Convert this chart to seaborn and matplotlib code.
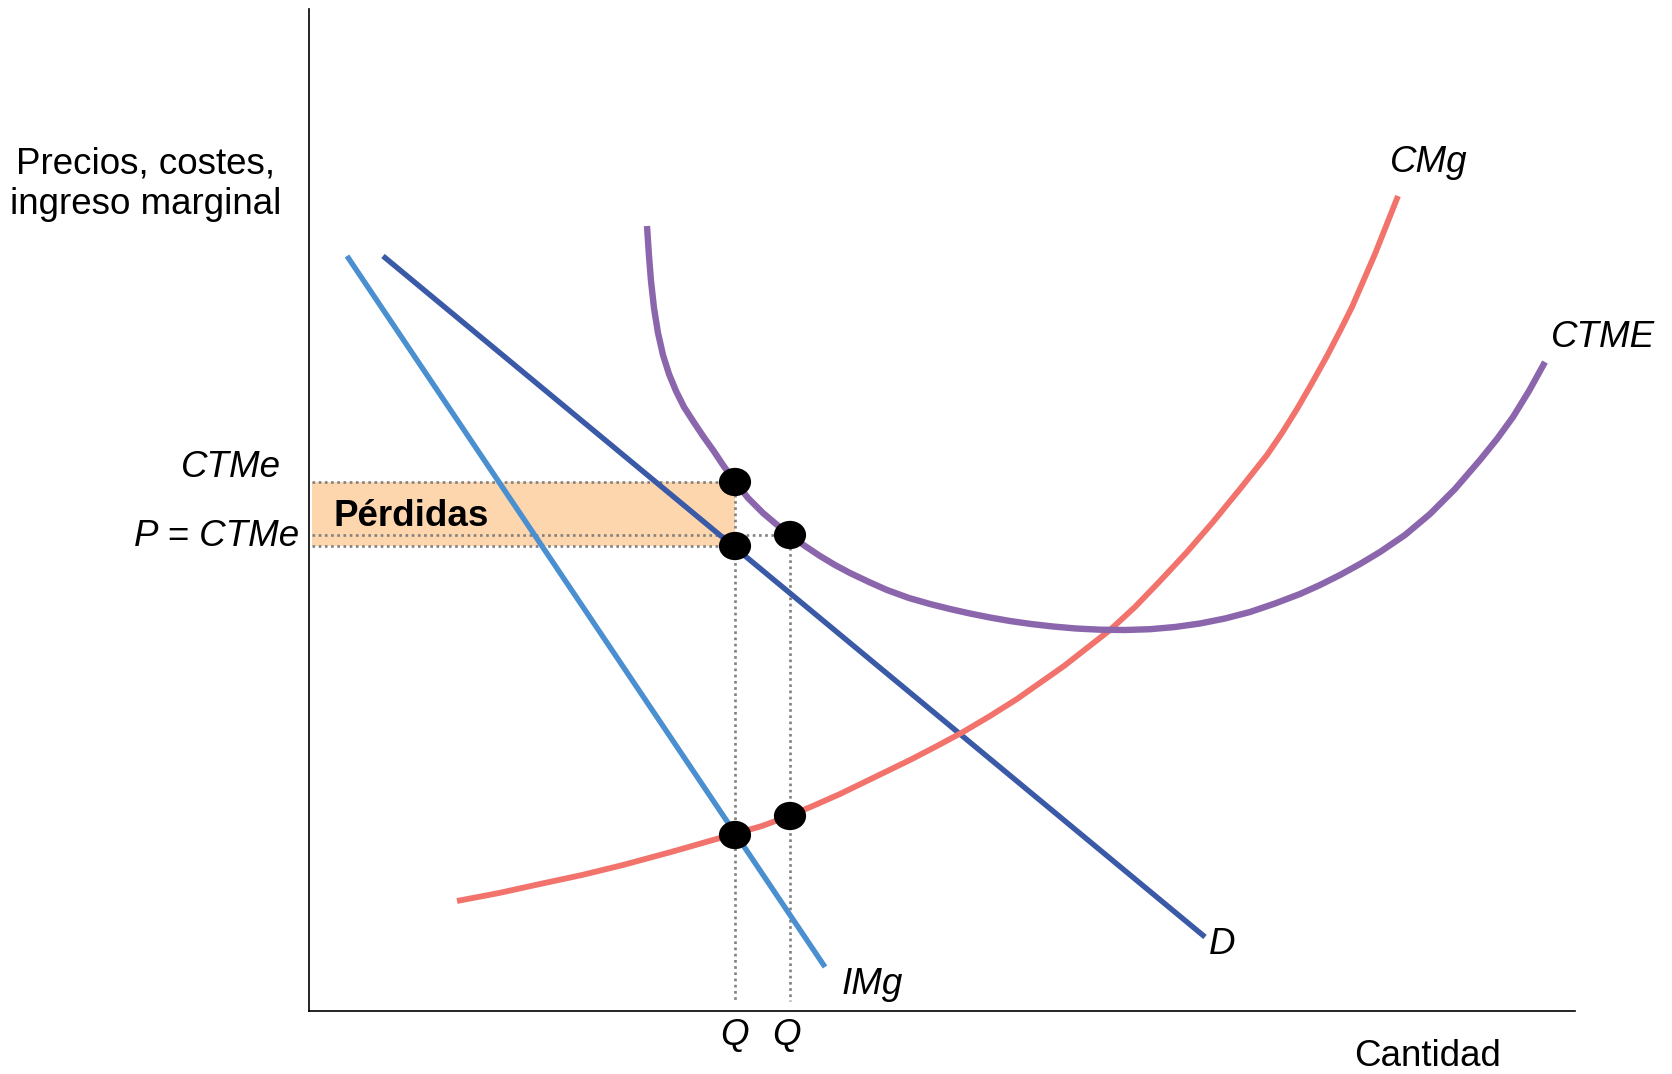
import matplotlib
matplotlib.use("Agg")
import matplotlib.pyplot as plt
from matplotlib.markers import MarkerStyle
from matplotlib.transforms import Affine2D
import seaborn as sns

# ---------------- data (arbitrary units) ----------------
img_x = [38, 516]
img_y = [755, 44]

d_x = [74, 896]
d_y = [755, 74]

cmg_x = [148, 190, 231, 273, 314, 362, 411, 453, 480, 505, 531, 566, 601, 628, 654, 681,
         708, 755, 801, 826, 851, 878, 904, 931, 958, 973, 988, 1003, 1018, 1031, 1043,
         1066, 1089]
cmg_y = [110, 118, 127, 136, 146, 159, 173, 185, 195, 205.5, 217, 234, 251, 265, 279, 295,
         312, 345, 381, 404, 430, 459, 489, 522, 556, 578, 602, 628, 655, 680, 704,
         757, 815]

ctme_x = [338, 340, 342, 345, 349, 354, 360, 367, 375, 384, 394, 404, 414, 424, 439, 454,
          467, 481, 496, 511, 526, 541, 560, 578, 600, 621, 641, 661, 681, 701, 722, 744,
          767, 791, 816, 841, 866, 891, 916, 941, 966, 991, 1011, 1031, 1051, 1071, 1096,
          1121, 1146, 1171, 1188, 1204, 1220, 1236]
ctme_y = [785, 755, 730, 703, 678, 656, 637, 620, 604, 590, 575, 561, 546, 532, 513, 498,
          487, 476, 465, 455, 446, 438, 429, 421, 413, 407, 402, 397.5, 393.5, 390, 387, 384.5,
          382.5, 381.3, 381, 381.8, 384, 387.5, 392.5, 399, 407.5, 417, 426, 436, 447, 459, 476,
          497, 522, 551, 572, 594, 620, 649]

q_levels = [426, 481]          # the two quantities marked Q
ctme_level = 529               # CTMe at the first Q
price_level = 465              # P at the first Q
ctme_q2_level = 476            # CTME at the second Q

dots_x = [426, 426, 481, 426, 481]
dots_y = [529, 465, 476, 176, 195]

q_labels = ["Q", "Q"]

# ---------------- style ----------------
sns.set_theme(style="white")
plt.rcParams["font.family"] = ["Liberation Sans", "DejaVu Sans"]

FS = 26.5
C_IMG = "#4A8FCF"
C_D = "#3A59A6"
C_CMG = "#F2726C"
C_CTME = "#8B66AD"
C_RECT = "#FDD6AE"
C_DOT = "#808080"

fig = plt.figure(figsize=(16.72, 10.74), dpi=100)
ax = fig.add_axes([309 / 1672, 1 - 1011 / 1074, (1575 - 309) / 1672, (1011 - 9) / 1074])
ax.set_xlim(0, 1266)
ax.set_ylim(0, 1002)

# losses rectangle
ax.fill_between([3, q_levels[0]], price_level, ctme_level, color=C_RECT, lw=0, zorder=1)

# dotted guide lines
dot_kw = dict(color=C_DOT, lw=1.9, ls=(0, (1, 1.35)), zorder=2)
ax.plot([3, q_levels[0]], [ctme_level, ctme_level], **dot_kw)
ax.plot([3, q_levels[0]], [price_level, price_level], **dot_kw)
ax.plot([3, q_levels[1]], [ctme_q2_level, ctme_q2_level], **dot_kw)
ax.plot([q_levels[0], q_levels[0]], [ctme_level, 10], **dot_kw)
ax.plot([q_levels[1], q_levels[1]], [ctme_q2_level, 10], **dot_kw)

# curves
n0 = len(ax.get_lines())
sns.lineplot(x=img_x, y=img_y, ax=ax, color=C_IMG, lw=3.9, estimator=None, zorder=3)
sns.lineplot(x=d_x, y=d_y, ax=ax, color=C_D, lw=3.9, estimator=None, zorder=3)
sns.lineplot(x=cmg_x, y=cmg_y, ax=ax, color=C_CMG, lw=4.2, estimator=None, zorder=3)
sns.lineplot(x=ctme_x, y=ctme_y, ax=ax, color=C_CTME, lw=4.6, estimator=None, zorder=3)
for l in ax.get_lines()[n0:]:
    l.set_solid_joinstyle("round")
    l.set_solid_capstyle("butt")

# points (slightly wide ellipses)
ell = MarkerStyle("o", transform=Affine2D().scale(1.08, 0.95))
sns.scatterplot(x=dots_x, y=dots_y, ax=ax, color="black", s=460, edgecolor="none",
                marker=ell, zorder=5)

# axes
ax.set_xticks([])
ax.set_yticks([])
ax.set_xlabel("")
ax.set_ylabel("")
for side in ["top", "right"]:
    ax.spines[side].set_visible(False)
for side in ["left", "bottom"]:
    ax.spines[side].set_color("black")
    ax.spines[side].set_linewidth(1.2)

# labels
it = dict(fontsize=FS, style="italic", color="black", clip_on=False)
ax.text(1081, 849, "CMg", ha="left", va="center", **it)
ax.text(1242, 674, "CTME", ha="left", va="center", **it)
ax.text(-28, 544, "CTMe", ha="right", va="center", **it)
ax.text(-10, 475, "P = CTMe", ha="right", va="center", **it)
ax.text(900, 66, "D", ha="left", va="center", **it)
ax.text(533, 27, "IMg", ha="left", va="center", **it)
for qx, ql, dx in zip(q_levels, q_labels, [0, -4]):
    ax.text(qx + dx, -24, ql, ha="center", va="center", **it)

ax.text(24, 495, "Pérdidas", ha="left", va="center", fontsize=FS, fontweight="bold",
        color="black", zorder=6)
ax.text(1119, -45, "Cantidad", ha="center", va="center", fontsize=FS, color="black",
        clip_on=False)
ax.text(-163, 827, "Precios, costes,\ningreso marginal", ha="center", va="center",
        fontsize=FS, color="black", linespacing=1.2, clip_on=False)

fig.savefig("out.png", dpi=100)
